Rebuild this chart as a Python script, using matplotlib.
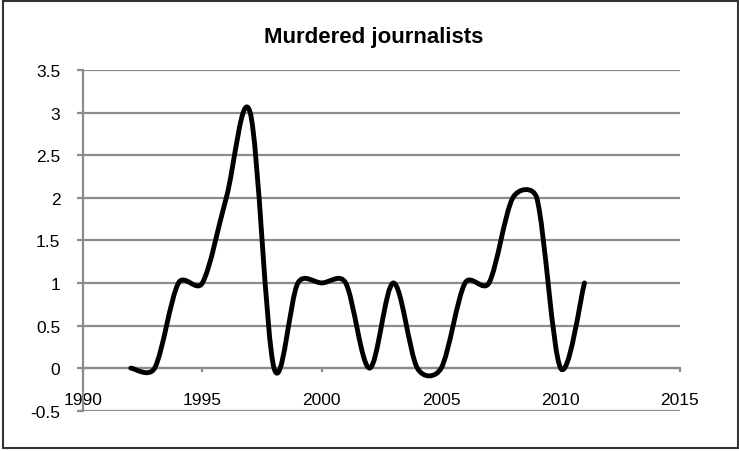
import numpy as np
import matplotlib
matplotlib.use("Agg")
import matplotlib.pyplot as plt
from matplotlib.path import Path
from matplotlib.patches import PathPatch, Rectangle

years = [1992, 1993, 1994, 1995, 1996, 1997, 1998, 1999, 2000, 2001,
         2002, 2003, 2004, 2005, 2006, 2007, 2008, 2009, 2010, 2011]
murdered = [0, 0, 1, 1, 2, 3, 0, 1, 1, 1,
            0, 1, 0, 0, 1, 1, 2, 2, 0, 1]
x_ticks = [1990, 1995, 2000, 2005, 2010, 2015]
y_ticks = [-0.5, 0, 0.5, 1, 1.5, 2, 2.5, 3, 3.5]

plt.rcParams['font.family'] = ['Liberation Sans', 'DejaVu Sans']

grid_col = '#8c8c8c'


def smooth_path(ax, xs, ys):
    """Spreadsheet-style smoothed line: cubic Bezier segments with 1/6 tangents,
    each control arm limited to half the segment length (worked out in pixels)."""
    to_px = ax.transData
    pts = to_px.transform(np.column_stack([xs, ys]).astype(float))
    n = len(pts)
    verts = [pts[0]]
    codes = [Path.MOVETO]
    for i in range(n - 1):
        p0 = pts[i - 1] if i > 0 else pts[i]
        p1 = pts[i]
        p2 = pts[i + 1]
        p3 = pts[i + 2] if i + 2 < n else pts[i + 1]
        seg = np.hypot(*(p2 - p1))
        arm1 = (p2 - p0) / 6.0
        arm2 = (p3 - p1) / 6.0
        for arm in (arm1, arm2):
            ln = np.hypot(*arm)
            if ln > seg / 2:
                arm *= (seg / 2) / ln
        verts += [p1 + arm1, p2 - arm2, p2]
        codes += [Path.CURVE4] * 3
    verts = to_px.inverted().transform(np.array(verts))
    return Path(verts, codes)


fig = plt.figure(figsize=(7.39, 4.52), dpi=100)
ax = fig.add_axes([83 / 739, 1 - 411.7 / 452, (680 - 83) / 739, (411.7 - 71) / 452])

ax.set_xlim(1990, 2015)
ax.set_ylim(-0.5, 3.5)
ax.set_xticks(x_ticks)
ax.set_yticks(y_ticks)
ax.set_yticklabels([('%g' % v) for v in y_ticks])

for v in y_ticks:
    ax.axhline(v, color=grid_col, lw=1.6, zorder=1)

ax.spines['top'].set_visible(False)
ax.spines['right'].set_visible(False)
ax.spines['bottom'].set_position(('data', 0))
for s in ('left', 'bottom'):
    ax.spines[s].set_color(grid_col)
    ax.spines[s].set_linewidth(1.6)

ax.tick_params(axis='x', direction='out', length=3, width=1.6, color=grid_col,
               pad=14, labelsize=12.5)
ax.tick_params(axis='y', direction='out', length=4.3, width=1.6, color=grid_col,
               pad=12, labelsize=12.5)

curve = PathPatch(smooth_path(ax, years, murdered), facecolor='none', edgecolor='black',
                  lw=3.5, capstyle='round', joinstyle='round', zorder=3)
ax.add_patch(curve)

fig.text(374 / 739, 1 - 38 / 452, 'Murdered journalists', ha='center', va='center',
         fontsize=16, fontweight='bold')

fig.patches.append(Rectangle((3 / 739, 1 - 449 / 452), 735 / 739, 447 / 452,
                             transform=fig.transFigure, fill=False,
                             edgecolor='#333333', lw=1.5))

fig.savefig('out.png', dpi=100)
